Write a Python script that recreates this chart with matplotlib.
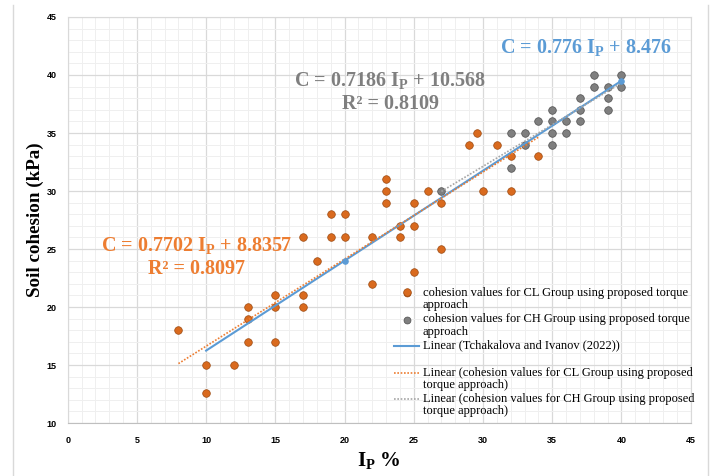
import numpy as np
import matplotlib
matplotlib.use("Agg")
import matplotlib.pyplot as plt
from matplotlib.lines import Line2D

plt.rcParams['mathtext.fontset'] = 'custom'
plt.rcParams['mathtext.rm'] = 'Liberation Serif'
plt.rcParams['mathtext.bf'] = 'Liberation Serif:bold'

# CL group (orange points)
cl_ip = [8, 10, 10, 12, 13, 13, 13, 15, 15, 15, 17, 17, 17, 18, 19, 19, 20, 20,
         22, 22, 23, 23, 23, 24, 24, 24.5, 25, 25, 25, 26, 27, 27, 29, 29.6, 30,
         31, 32, 32, 34]
cl_c = [18, 15, 12.6, 15, 20, 19, 17, 21, 20, 17, 26, 21, 20, 24, 28, 26, 28, 26,
        26, 22, 31, 30, 29, 27, 26, 21.3, 29, 27, 23, 30, 29, 25, 34, 35, 30,
        34, 33, 30, 33]

# CH group (grey points)
ch_ip = [27, 32, 32, 33, 33, 34, 35, 35, 35, 35, 36, 36, 37, 37, 37,
         38, 38, 39, 39, 39, 40, 40]
ch_c = [30, 35, 32, 35, 34, 36, 37, 36, 35, 34, 36, 35, 38, 37, 36,
        40, 39, 39, 38, 37, 40, 39]

# Tchakalova and Ivanov (2022)
ti_ip = [10, 20, 40]
ti_c = [16.24, 24.0, 39.5]

orange = '#D96A1E'
grey = '#7F7F7F'
blue = '#5B9BD5'

fig = plt.figure(figsize=(7.11, 4.76), dpi=100)
ax = fig.add_axes([0.0952, 0.1113, 0.8762, 0.8530])

ax.set_xlim(0, 45)
ax.set_ylim(10, 45)
ax.set_xticks(np.arange(0, 46, 5))
ax.set_yticks(np.arange(10, 46, 5))
ax.set_xticks(np.arange(0, 46, 1), minor=True)
ax.set_yticks(np.arange(10, 46, 1), minor=True)
ax.grid(which='major', color='#d9d9d9', lw=0.9)
ax.grid(which='minor', color='#efefef', lw=0.7)
ax.set_axisbelow(True)
ax.tick_params(which='both', length=0)
ax.tick_params(axis='y', pad=8)
ax.tick_params(axis='x', pad=9)
for lab in ax.get_xticklabels() + ax.get_yticklabels():
    lab.set_fontfamily('Liberation Sans')
    lab.set_fontweight('bold')
    lab.set_fontsize(6.5)
for side in ['top', 'right', 'left']:
    ax.spines[side].set_color('#d9d9d9')
ax.spines['bottom'].set_color('#bfbfbf')

# points
ax.scatter(cl_ip, cl_c, s=30, color=orange, edgecolors='#9C4A12', linewidths=0.5, zorder=3)
ax.scatter(ch_ip, ch_c, s=30, color=grey, edgecolors='#4F4F4F', linewidths=0.5, zorder=3)
ax.scatter(ti_ip[1:], ti_c[1:], s=14, color=blue, zorder=5)

# linear trendlines
def trend(x, y):
    k, b = np.polyfit(x, y, 1)
    xs = np.array([min(x), max(x)])
    return xs, k * xs + b

xs, ys = trend(ti_ip, ti_c)
ax.plot(xs, ys, color=blue, lw=1.5, zorder=4)
xs, ys = trend(cl_ip, cl_c)
ax.plot(xs, ys, color='#ED7D31', lw=1.2, ls=(0, (1, 1)), zorder=4)
xs, ys = trend(ch_ip, ch_c)
ax.plot(xs, ys, color='#A5A5A5', lw=1.2, ls=(0, (1, 1)), zorder=4)

# equations
eq_font = dict(family='Liberation Serif', fontweight='bold', fontsize=14.5,
               ha='center', va='center')
ax.text(9.3, 24.3, 'C = 0.7702 $\\mathbf{I_P}$ + 8.8357\nR² = 0.8097',
        color='#ED7D31', **eq_font)
ax.text(23.3, 38.5, 'C = 0.7186 $\\mathbf{I_P}$ + 10.568\nR² = 0.8109',
        color='#7F7F7F', **eq_font)
ax.text(37.4, 42.4, 'C = 0.776 $\\mathbf{I_P}$ + 8.476',
        color=blue, **eq_font)

ax.set_xlabel('I$\\mathbf{_P}$ %', family='Liberation Serif', fontweight='bold',
              fontsize=15, labelpad=4)
ax.set_ylabel('Soil cohesion (kPa)', family='Liberation Serif', fontweight='bold',
              fontsize=13.7, labelpad=2)

# legend, laid out like the Excel one (handle beside the first text line)
leg_labels = [
    'cohesion values for CL Group using proposed torque\napproach',
    'cohesion values for CH Group using proposed torque\napproach',
    'Linear (Tchakalova and Ivanov (2022))',
    'Linear (cohesion values for CL Group using proposed\ntorque approach)',
    'Linear (cohesion values for CH Group using proposed\ntorque approach)',
]
leg_y = [0.320, 0.254, 0.190, 0.123, 0.059]
for i, (lab, y) in enumerate(zip(leg_labels, leg_y)):
    if i == 0:
        ax.plot([0.544], [y], 'o', ms=5, color=orange, mec='#9C4A12', mew=0.5,
                transform=ax.transAxes)
    elif i == 1:
        ax.plot([0.544], [y], 'o', ms=5, color=grey, mec='#4F4F4F', mew=0.5,
                transform=ax.transAxes)
    elif i == 2:
        ax.plot([0.524, 0.564], [y, y], color=blue, lw=1.5, transform=ax.transAxes)
    elif i == 3:
        ax.plot([0.524, 0.564], [y, y], color='#ED7D31', lw=1.2, ls=(0, (1, 1)),
                transform=ax.transAxes)
    else:
        ax.plot([0.524, 0.564], [y, y], color='#A5A5A5', lw=1.2, ls=(0, (1, 1)),
                transform=ax.transAxes)
    ax.text(0.570, y + 0.016, lab, transform=ax.transAxes, family='Liberation Serif',
            fontsize=9, va='top', ha='left', linespacing=1.05)

# chart area border
fig.add_artist(Line2D([12.7 / 711] * 2, [0, 1 - 5 / 476], transform=fig.transFigure,
                      color='#d9d9d9', lw=1))
fig.add_artist(Line2D([707.5 / 711] * 2, [0, 1 - 5 / 476], transform=fig.transFigure,
                      color='#d9d9d9', lw=1))

fig.savefig('out.png', dpi=100)
